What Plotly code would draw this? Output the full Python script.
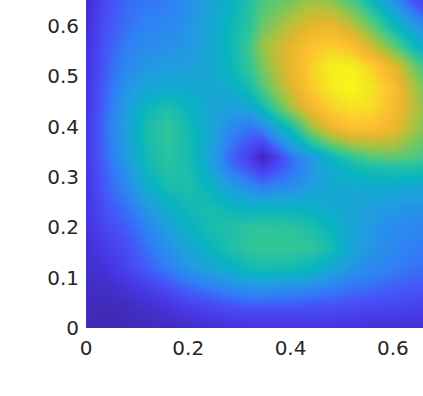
import plotly.graph_objects as go

x_values = [0, .04, .08, .12, .16, .20, .24, .28, .32, .345, .40, .44, .48, .52, .56, .60, .64, .68]
y_values = [0, .04, .08, .12, .16, .20, .24, .28, .32, .34, .40, .44, .48, .52, .56, .60, .64, .68]
z_values = [
 [.02,.02,.02,.03,.03,.04,.05,.06,.07,.07,.07,.07,.07,.07,.06,.06,.06,.06],
 [.03,.02,.03,.05,.07,.10,.12,.14,.15,.15,.15,.14,.14,.13,.12,.12,.11,.11],
 [.04,.04,.07,.10,.14,.18,.21,.24,.26,.26,.25,.24,.22,.20,.19,.17,.16,.15],
 [.05,.07,.12,.17,.22,.27,.32,.36,.40,.42,.41,.38,.33,.27,.24,.22,.20,.19],
 [.06,.10,.14,.20,.26,.32,.38,.43,.47,.48,.48,.47,.42,.32,.27,.24,.22,.21],
 [.07,.13,.17,.23,.30,.37,.42,.44,.46,.47,.46,.43,.38,.32,.28,.25,.24,.23],
 [.08,.15,.20,.28,.36,.41,.42,.39,.37,.37,.37,.36,.34,.32,.30,.28,.27,.27],
 [.08,.17,.24,.35,.42,.43,.38,.30,.25,.22,.25,.30,.33,.34,.34,.34,.33,.33],
 [.09,.18,.27,.40,.45,.43,.33,.21,.14,.09,.19,.27,.35,.40,.43,.44,.44,.42],
 [.09,.19,.29,.41,.46,.42,.32,.19,.10,.02,.20,.28,.38,.47,.53,.55,.52,.47],
 [.09,.20,.31,.43,.47,.41,.33,.25,.20,.24,.42,.62,.78,.85,.84,.78,.65,.55],
 [.08,.19,.30,.39,.43,.38,.33,.30,.33,.40,.64,.80,.90,.94,.92,.83,.68,.55],
 [.08,.18,.27,.32,.34,.33,.33,.35,.42,.52,.73,.87,.96,.99,.94,.83,.66,.50],
 [.07,.17,.24,.28,.29,.30,.33,.38,.48,.58,.77,.89,.97,.97,.89,.76,.58,.42],
 [.07,.16,.22,.25,.26,.28,.32,.39,.50,.62,.76,.85,.89,.84,.70,.55,.40,.30],
 [.06,.15,.20,.23,.24,.27,.32,.39,.46,.56,.68,.76,.77,.68,.55,.40,.30,.20],
 [.05,.14,.19,.21,.22,.26,.31,.37,.45,.52,.60,.66,.65,.55,.42,.30,.18,.10],
 [.05,.13,.18,.20,.21,.25,.30,.35,.42,.48,.52,.55,.50,.42,.30,.18,.09,.06],
]
x_ticks = [0, .2, .4, .6]
x_labels = ["0", "0.2", "0.4", "0.6"]
y_ticks = [0, .1, .2, .3, .4, .5, .6]
y_labels = ["0", "0.1", "0.2", "0.3", "0.4", "0.5", "0.6"]

parula = [
 [0.0, "#3e26a8"], [0.08, "#4735e0"], [0.15, "#4750f8"], [0.22, "#2f80f5"],
 [0.30, "#1fa0de"], [0.38, "#08b4c0"], [0.47, "#2ec59a"], [0.55, "#62c86e"],
 [0.65, "#abc23e"], [0.75, "#e6b62c"], [0.85, "#fdc030"], [0.93, "#f5e024"], [1.0, "#f9fb15"],
]

fig = go.Figure(go.Heatmap(x=x_values, y=y_values, z=z_values, zmin=0, zmax=1,
                           colorscale=parula, zsmooth="best", showscale=False))
font = dict(family="DejaVu Sans", size=20, color="#262626")
fig.update_layout(width=423, height=396, margin=dict(l=86, r=0, t=0, b=68),
                  paper_bgcolor="white", plot_bgcolor="white")
fig.update_xaxes(range=[0, 0.659], tickvals=x_ticks, ticktext=x_labels, tickfont=font,
                 ticks="", showgrid=False, zeroline=False, ticklabelstandoff=6)
fig.update_yaxes(range=[0, 0.652], tickvals=y_ticks, ticktext=y_labels, tickfont=font,
                 ticks="", showgrid=False, zeroline=False, ticklabelstandoff=6)
fig.write_html("out.html", config={"displayModeBar": False},
               post_script="document.body.style.margin='0';document.body.style.overflow='hidden';")
